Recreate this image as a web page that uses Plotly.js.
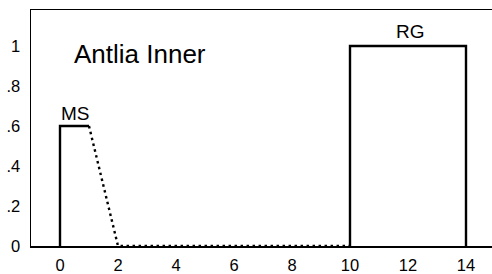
<!DOCTYPE html>
<html><head><meta charset="utf-8">
<script src="https://cdn.plot.ly/plotly-3.0.1.min.js"></script>
<style>html,body{margin:0;padding:0;overflow:hidden;background:#fff}#c{width:500px;height:274px}</style>
</head><body><div id="c"></div>
<script>
const msX = [0, 0, 1];
const msY = [0, 0.6, 0.6];
const decayX = [1, 2, 10];
const decayY = [0.6, 0, 0];
const rgX = [10, 10, 14, 14];
const rgY = [0, 1, 1, 0];
const yTickVals = [0, 0.2, 0.4, 0.6, 0.8, 1];
const yTickText = ['0', '.2', '.4', '.6', '.8', '1'];
const xTickVals = [0, 2, 4, 6, 8, 10, 12, 14];
const labels = [
  {text: 'Antlia Inner', x: 2.76, y: 0.96, size: 26},
  {text: 'MS', x: 0.52, y: 0.665, size: 19},
  {text: 'RG', x: 12.1, y: 1.075, size: 19}
];
const solid = {color: '#000', width: 2.4};
const traces = [
  {x: msX, y: msY, mode: 'lines', line: solid},
  {x: decayX, y: decayY, mode: 'lines', line: {color: '#000', width: 2.4, dash: '2.5px,3.5px'}},
  {x: rgX, y: rgY, mode: 'lines', line: solid}
];
const layout = {
  width: 500, height: 274,
  margin: {l: 31, r: 5, t: 10, b: 28},
  showlegend: false,
  plot_bgcolor: '#fff', paper_bgcolor: '#fff',
  font: {family: 'Liberation Sans, Arial, sans-serif', color: '#000', size: 16},
  xaxis: {range: [-1, 15], tickvals: xTickVals, showgrid: false, zeroline: false,
    showline: true, linecolor: '#000', linewidth: 1.5, mirror: true, ticks: '', ticklabelstandoff: 4,
    tickfont: {size: 16.5}},
  yaxis: {range: [0, 1.18], tickvals: yTickVals, ticktext: yTickText, showgrid: false, zeroline: false,
    showline: true, linecolor: '#000', linewidth: 1.5, mirror: true, ticks: '', ticklabelstandoff: 6,
    tickfont: {size: 16.5}},
  annotations: labels.map(l => ({text: l.text, x: l.x, y: l.y, xref: 'x', yref: 'y', showarrow: false,
    font: {size: l.size, color: '#000'}}))
};
Plotly.newPlot('c', traces, layout, {displayModeBar: false, staticPlot: true});
</script></body></html>
